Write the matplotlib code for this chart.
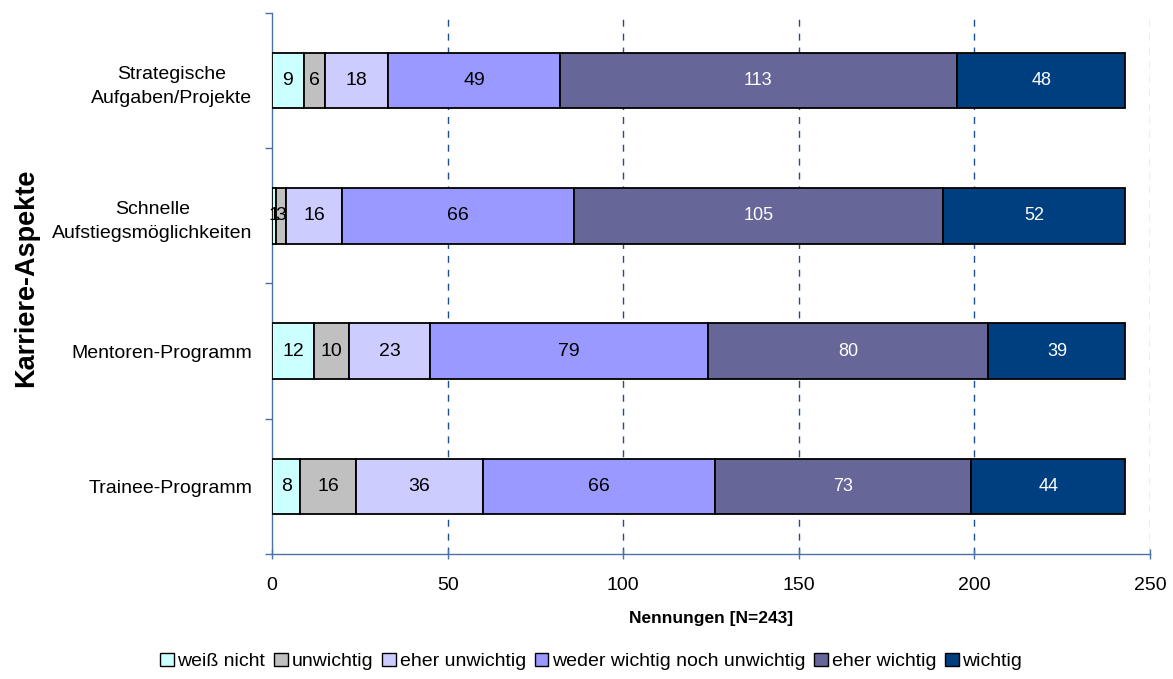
import numpy as np
import matplotlib.pyplot as plt
from matplotlib.patches import Patch

plt.rcParams['font.family'] = ['Liberation Sans', 'DejaVu Sans']

categories = ['Strategische\nAufgaben/Projekte', 'Schnelle\nAufstiegsmöglichkeiten',
              'Mentoren-Programm', 'Trainee-Programm']
series = ['weiß nicht', 'unwichtig', 'eher unwichtig',
          'weder wichtig noch unwichtig', 'eher wichtig', 'wichtig']
values = [
    [9, 1, 12, 8],
    [6, 3, 10, 16],
    [18, 16, 23, 36],
    [49, 66, 79, 66],
    [113, 105, 80, 73],
    [48, 52, 39, 44],
]
colors = ['#CCFFFF', '#C0C0C0', '#CCCCFF', '#9999FF', '#666699', '#003F7F']
text_colors = ['black', 'black', 'black', 'black', 'white', 'white']

axis_col = '#4A72A8'
grid_col = '#1F4E8C'

fig = plt.figure(figsize=(11.73, 6.79), dpi=100)
ax = fig.add_axes([0.2319, 0.1841, 0.7485, 0.7968])

y = np.arange(len(categories))
left = np.zeros(len(categories))
for vals, name, c, tc in zip(values, series, colors, text_colors):
    vals = np.array(vals, dtype=float)
    bars = ax.barh(y, vals, left=left, height=0.41, color=c, edgecolor='black',
                   linewidth=1.3, label=name, zorder=3)
    fs = 14 if tc == 'black' else 13
    for b, v in zip(bars, vals):
        ax.text(b.get_x() + b.get_width() / 2, b.get_y() + b.get_height() / 2,
                f'{int(v)}', ha='center', va='center', color=tc, fontsize=fs,
                zorder=4)
    left += vals

ax.set_xlim(0, 250)
ax.set_ylim(3.5, -0.5)
ax.set_xticks([0, 50, 100, 150, 200, 250])
ax.set_yticks(y)
ax.set_yticklabels(categories, fontsize=14, linespacing=1.55, ha='right',
                   multialignment='center')
ax.set_yticks(np.arange(-0.5, 4, 1), minor=True)
ax.tick_params(axis='y', which='major', length=0, pad=14)
ax.tick_params(axis='y', which='minor', length=5, direction='out', color=axis_col, width=1)
ax.tick_params(axis='x', length=7, direction='inout', color=axis_col, width=1,
               labelsize=14, pad=13)

for xv in [50, 100, 150, 200, 250]:
    ax.axvline(xv, color=grid_col if xv < 250 else '#7FA0C4', linestyle=(0, (5, 5)),
               linewidth=1, zorder=1)

for s in ['top', 'right']:
    ax.spines[s].set_visible(False)
for s in ['left', 'bottom']:
    ax.spines[s].set_color(axis_col)
    ax.spines[s].set_linewidth(1)

ax.set_xlabel('Nennungen [N=243]', fontsize=12.5, fontweight='bold', labelpad=12)
fig.text(0.022, 0.591, 'Karriere-Aspekte', rotation=90, ha='center', va='center',
         fontsize=19.5, fontweight='bold')

handles = [Patch(facecolor=c, edgecolor='black', linewidth=1) for c in colors]
fig.legend(handles, series, loc='center', bbox_to_anchor=(0.504, 0.026), ncol=6,
           frameon=False, fontsize=14, handlelength=0.7, handleheight=0.7,
           handletextpad=0.2, columnspacing=0.45, borderaxespad=0)

fig.savefig('out.png', dpi=100)
